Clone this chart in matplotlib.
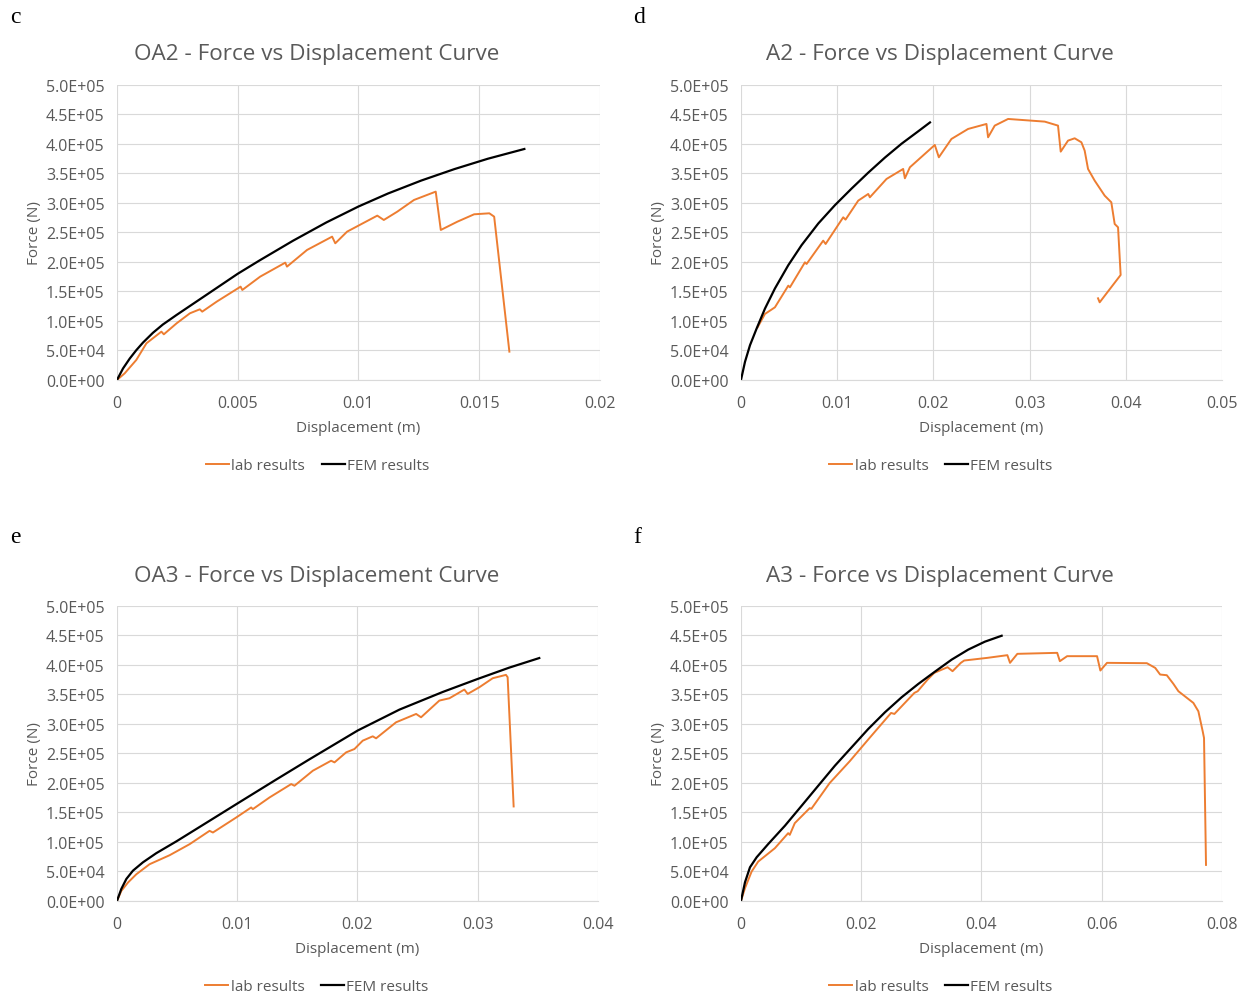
import matplotlib.pyplot as plt
import matplotlib.ticker as tkr

# DATA (displacement in m, force in N)

oa2_lab_disp = [0, 0.00032, 0.00080, 0.00122, 0.00184, 0.00194, 0.00247, 0.00302,
                0.00343, 0.00353, 0.00413, 0.00512, 0.00519, 0.00593, 0.00697,
                0.00704, 0.00787, 0.00891, 0.00904, 0.00953, 0.01078, 0.01105,
                0.01161, 0.01230, 0.01320, 0.01341, 0.01410, 0.01479, 0.01542,
                0.01562, 0.01625]
oa2_lab_force = [0, 11300, 33900, 62150, 81925, 77405, 96050, 113000,
                 119780, 115825, 132775, 158200, 152550, 175150, 198880,
                 192100, 220350, 242950, 231650, 251425, 278545, 271200,
                 285325, 305100, 319225, 254250, 268375, 280805, 282500,
                 276850, 48025]
oa2_fem_disp = [0, 0.00025, 0.00053, 0.0008, 0.00108, 0.00149, 0.0019, 0.00246,
                0.00315, 0.00384, 0.005, 0.0059, 0.00729, 0.00867, 0.01,
                0.01122, 0.0126, 0.01398, 0.01536, 0.01687]
oa2_fem_force = [0, 19500, 36400, 50500, 63500, 80000, 94000, 110000,
                 129000, 148000, 180000, 202500, 236000, 267000, 294000,
                 316000, 338000, 357500, 375000, 391500]

a2_lab_disp = [0.00173, 0.00249, 0.00353, 0.00492, 0.00509, 0.00665, 0.00682,
               0.00855, 0.0088, 0.01063, 0.01087, 0.01219, 0.01323, 0.0134,
               0.01513, 0.01686, 0.01704, 0.01756, 0.02015, 0.02057, 0.02188,
               0.02361, 0.02552, 0.02569, 0.02638, 0.02777, 0.03158, 0.03296,
               0.03324, 0.034, 0.03469, 0.03539, 0.03573, 0.03608, 0.03677,
               0.03781, 0.0385, 0.03885, 0.0392, 0.03947, 0.03729, 0.03712]
a2_lab_force = [89270, 111875, 123170, 159895, 157070, 199445, 196620,
                236170, 230520, 275720, 271765, 303970, 315270, 309620,
                340695, 357645, 341820, 360470, 398325, 377420, 408495,
                425445, 433920, 411320, 431095, 442395, 437875, 431095,
                387025, 405670, 409625, 402845, 388720, 357645, 337870,
                312445, 301145, 264420, 258770, 177975, 131645, 138425]
a2_fem_disp = [0, 0.00042, 0.00094, 0.00163, 0.0025, 0.00353, 0.00492, 0.0063,
               0.00804, 0.00977, 0.01151, 0.01324, 0.01497, 0.0167, 0.01843,
               0.01965]
a2_fem_force = [0, 30850, 58990, 87290, 121190, 155090, 194580, 228480,
                265270, 296290, 324590, 351500, 377000, 400500, 421500,
                436500]

oa3_lab_disp = [0, 0.00036, 0.00091, 0.00161, 0.00271, 0.00438, 0.00604,
                0.0077, 0.00798, 0.00992, 0.01116, 0.0113, 0.01269, 0.01449,
                0.01476, 0.01629, 0.01781, 0.01809, 0.01906, 0.01975, 0.02044,
                0.02127, 0.02155, 0.02321, 0.02488, 0.02529, 0.02681, 0.02765,
                0.02889, 0.02917, 0.03014, 0.03125, 0.03235, 0.03249, 0.03299]
oa3_lab_force = [0, 16980, 31130, 45280, 62260, 77540, 96220,
                 118860, 116030, 141500, 158480, 155650, 175460, 198100,
                 195270, 220740, 237720, 234890, 251870, 257530, 271680,
                 279040, 275640, 302810, 316960, 311300, 339600, 343560,
                 358280, 350920, 362240, 377520, 383180, 379220, 160180]
oa3_fem_disp = [0, 0.00036, 0.00078, 0.00133, 0.00216, 0.00327, 0.00494,
                0.00771, 0.01, 0.01326, 0.016, 0.02003, 0.02349, 0.02709,
                0.03, 0.03263, 0.03512]
oa3_fem_force = [0, 20340, 37290, 51360, 65500, 81000, 101000,
                 136000, 165000, 206000, 240000, 289000, 324300, 354200,
                 376300, 395500, 411700]

a3_lab_disp = [0, 0.00066, 0.00177, 0.00287, 0.00564, 0.00785, 0.00812,
               0.00895, 0.01144, 0.01171, 0.01475, 0.01807, 0.02138, 0.02497,
               0.02552, 0.02884, 0.02939, 0.03105, 0.03215, 0.03436, 0.03519,
               0.03657, 0.03713, 0.041, 0.04431, 0.04475, 0.04597, 0.0526,
               0.05304, 0.05425, 0.05923, 0.05978, 0.06088, 0.06751, 0.0689,
               0.06972, 0.07083, 0.07193, 0.07276, 0.07525, 0.07608, 0.0768,
               0.07702, 0.07735]
a3_lab_force = [0, 21510, 49810, 66790, 89430, 114900, 112070,
                131880, 157350, 156220, 199800, 236590, 276210, 318660,
                316960, 352620, 355450, 375260, 386580, 396200, 389410,
                403560, 407520, 412050, 416580, 403560, 418840, 420540,
                406390, 414880, 414880, 390540, 403560, 402990, 395070,
                383750, 382610, 367900, 355450, 335640, 321490, 287530,
                276210, 61130]
a3_fem_disp = [0, 0.00067, 0.0015, 0.00261, 0.00454, 0.00732, 0.0101, 0.01286,
               0.01563, 0.01841, 0.02117, 0.02395, 0.02673, 0.02949, 0.03227,
               0.03504, 0.0378, 0.04058, 0.04336]
a3_fem_force = [0, 31700, 57100, 74100, 96600, 127600, 161500, 195400,
                229300, 260500, 291500, 319800, 345300, 367800, 388700,
                409000, 426000, 439500, 449500]

panel_letters = ['c', 'd', 'e', 'f']
panel_titles = ['OA2 - Force vs Displacement Curve',
                'A2 - Force vs Displacement Curve',
                'OA3 - Force vs Displacement Curve',
                'A3 - Force vs Displacement Curve']
x_limits = [0.02, 0.05, 0.04, 0.08]
x_steps = [0.005, 0.01, 0.01, 0.02]

# PLOT

TEXT = '#595959'
GRID = '#d9d9d9'
LAB = '#ed7d31'

plt.rcParams['font.family'] = ['Open Sans', 'DejaVu Sans']

fig = plt.figure(figsize=(12.47, 9.95), dpi=100)

# axes rectangles in figure fraction (left, bottom, width, height)
rects = [(0.0938, 0.6171, 0.3873, 0.2965),
         (0.5942, 0.6171, 0.3857, 0.2965),
         (0.0938, 0.0935, 0.3857, 0.2965),
         (0.5942, 0.0935, 0.3857, 0.2965)]
letter_pos = [(0.008, 0.993), (0.508, 0.993), (0.008, 0.470), (0.508, 0.470)]
title_pos = [(0.2542, 0.9457), (0.7538, 0.9457), (0.2542, 0.4211), (0.7538, 0.4211)]

series = [(oa2_lab_disp, oa2_lab_force, oa2_fem_disp, oa2_fem_force),
          (a2_lab_disp, a2_lab_force, a2_fem_disp, a2_fem_force),
          (oa3_lab_disp, oa3_lab_force, oa3_fem_disp, oa3_fem_force),
          (a3_lab_disp, a3_lab_force, a3_fem_disp, a3_fem_force)]


def excel_general(x, pos):
    """ Format tick like Excel's General number format. """
    return '{:.3f}'.format(x).rstrip('0').rstrip('.')


for i, (lx, ly, fx, fy) in enumerate(series):
    ax = fig.add_axes(rects[i])
    ax.plot(lx, ly, color=LAB, lw=1.4, label='lab results')
    ax.plot(fx, fy, color='black', lw=1.6, label='FEM results')

    ax.set_xlim(0, x_limits[i])
    ax.set_ylim(0, 5e5)
    ax.xaxis.set_major_locator(tkr.MultipleLocator(x_steps[i]))
    ax.yaxis.set_major_locator(tkr.MultipleLocator(5e4))
    ax.xaxis.set_major_formatter(tkr.FuncFormatter(excel_general))
    ax.yaxis.set_major_formatter(
        tkr.FuncFormatter(lambda y, pos: '{:.1E}'.format(y)))

    ax.grid(True, color=GRID, lw=0.8)
    ax.set_axisbelow(True)
    for side in ['top', 'right', 'left']:
        ax.spines[side].set_visible(False)
    ax.spines['bottom'].set_color(GRID)
    ax.tick_params(length=0, colors=TEXT, labelsize=11.5)
    ax.tick_params(axis='x', pad=11)
    ax.tick_params(axis='y', pad=9)

    fig.text(title_pos[i][0], title_pos[i][1], panel_titles[i], color=TEXT,
             fontsize=16.2, ha='center', va='center')
    ax.set_xlabel('Displacement (m)', color=TEXT, fontsize=11)
    ax.xaxis.set_label_coords(0.5, -0.135)
    ax.set_ylabel('Force (N)', color=TEXT, fontsize=11)
    ax.yaxis.set_label_coords(-0.155, 0.5)

    # Excel centres the legend on the whole chart area, not the plot area
    lg = ax.legend(frameon=False, loc='center', ncol=2,
                   bbox_to_anchor=(0.416, -0.291), fontsize=11,
                   handlelength=1.5, handletextpad=0.15, columnspacing=1.1,
                   borderpad=0, borderaxespad=0)
    for t in lg.get_texts():
        t.set_color(TEXT)

    fig.text(letter_pos[i][0], letter_pos[i][1], panel_letters[i],
             family='Liberation Serif', fontsize=17, va='top', ha='left')

fig.savefig('out.png', dpi=100)
